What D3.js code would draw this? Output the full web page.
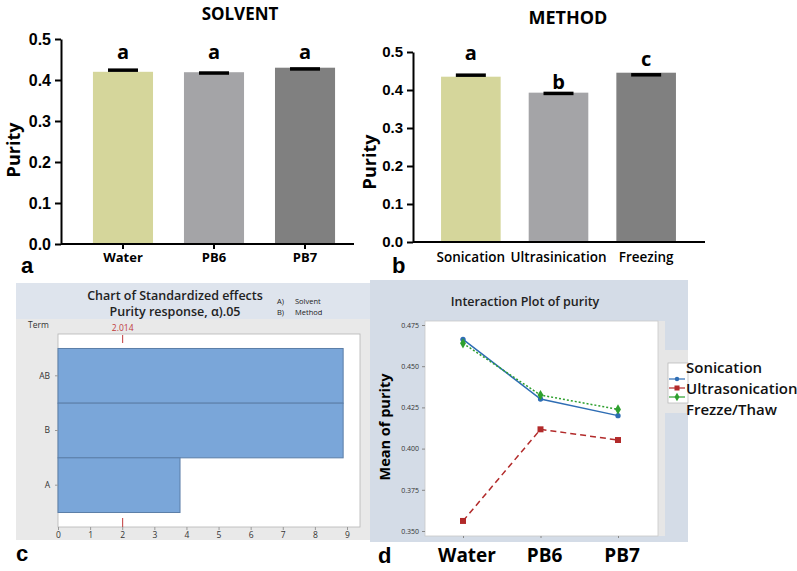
<!DOCTYPE html>
<html><head><meta charset="utf-8">
<script src="https://cdn.jsdelivr.net/npm/d3@7/dist/d3.min.js"></script>
<style>body{margin:0;background:#fff}svg{display:block}</style>
</head><body>
<svg id="chart" width="797" height="571"></svg>
<script>
// ---- Data ----
const solventCats = ["Water", "PB6", "PB7"];
const solventMeans = [0.420, 0.419, 0.430];
const solventCaps = [0.424, 0.417, 0.427];
const solventLetters = ["a", "a", "a"];
const solventLetterAt = [0.452, 0.452, 0.452];

const methodCats = ["Sonication", "Ultrasinication", "Freezing"];
const methodMeans = [0.435, 0.393, 0.4455];
const methodCaps = [0.439, 0.391, 0.440];
const methodLetters = ["a", "b", "c"];
const methodLetterAt = [0.479, 0.4026, 0.463];

const purityTicks = [0.0, 0.1, 0.2, 0.3, 0.4, 0.5];

const effectTerms = ["AB", "B", "A"];
const effectValues = [8.88, 8.88, 3.80];
const effectRef = 2.014;
const effectTicks = [0, 1, 2, 3, 4, 5, 6, 7, 8, 9];

const interCats = ["Water", "PB6", "PB7"];
const interSeries = ["Sonication", "Ultrasonication", "Frezze/Thaw"];
const sonicationVals = [0.4663, 0.4301, 0.4200];
const ultraVals = [0.3561, 0.4117, 0.4052];
const freezeVals = [0.4639, 0.4325, 0.4238];
const interTicks = [0.350, 0.375, 0.400, 0.425, 0.450, 0.475];

const svg = d3.select("#chart");
const barFont = "'Open Sans', Arial, sans-serif";

// ---- Bar panel helper ----
function barPanel(cfg) {
  const g = svg.append("g");
  const x = d3.scaleBand().domain(cfg.cats).range(cfg.xr).paddingInner(cfg.pad).paddingOuter(cfg.pad);
  const y = d3.scaleLinear().domain([0, 0.5]).range(cfg.yr);
  const data = cfg.cats.map((c, i) => ({c, v: cfg.means[i], cap: cfg.caps[i], l: cfg.letters[i], la: cfg.letterAt[i], col: cfg.colors[i]}));
  g.selectAll("rect.bar").data(data).join("rect")
    .attr("x", d => x(d.c)).attr("width", x.bandwidth())
    .attr("y", d => y(d.v)).attr("height", d => y(0) - y(d.v))
    .attr("fill", d => d.col);
  g.selectAll("line.cap").data(data).join("line")
    .attr("x1", d => x(d.c) + x.bandwidth() / 2 - 15).attr("x2", d => x(d.c) + x.bandwidth() / 2 + 15)
    .attr("y1", d => y(d.cap)).attr("y2", d => y(d.cap))
    .attr("stroke", "#000").attr("stroke-width", 3.5);
  g.selectAll("text.let").data(data).join("text")
    .attr("x", d => x(d.c) + x.bandwidth() / 2).attr("y", d => y(d.la))
    .attr("text-anchor", "middle").attr("font-family", barFont).attr("font-weight", 700)
    .attr("font-size", 20).text(d => d.l);
  // y axis
  const ya = g.append("g").attr("transform", `translate(${cfg.axisX},0)`)
    .call(d3.axisLeft(y).tickValues(purityTicks).tickFormat(d3.format(".1f")).tickSize(6).tickSizeOuter(0));
  ya.select(".domain").attr("stroke", "#000").attr("stroke-width", 2);
  ya.selectAll(".tick line").attr("stroke", "#000").attr("stroke-width", 2);
  ya.selectAll(".tick text").attr("font-family", "Arial, 'Liberation Sans', sans-serif").attr("font-weight", 700)
    .attr("font-size", cfg.tickFs).attr("fill", "#000").attr("dx", -1);
  // x axis
  const xa = g.append("g").attr("transform", `translate(0,${y(0)})`)
    .call(d3.axisBottom(x).tickSize(cfg.xTick).tickSizeOuter(0));
  xa.select(".domain").remove();
  g.append("line").attr("x1", cfg.axisX).attr("x2", cfg.axisEnd).attr("y1", y(0)).attr("y2", y(0))
    .attr("stroke", "#000").attr("stroke-width", 2);
  xa.selectAll(".tick line").attr("stroke", "#000").attr("stroke-width", 2);
  xa.selectAll(".tick text").attr("font-family", barFont).attr("font-weight", cfg.catW)
    .attr("font-size", cfg.catFs).attr("fill", "#000").attr("y", cfg.catDy);
  g.append("text").attr("x", cfg.titleX).attr("y", cfg.titleY).attr("text-anchor", "middle")
    .attr("font-family", barFont).attr("font-weight", 700).attr("font-size", cfg.titleFs).text(cfg.title);
  g.append("text").attr("transform", `translate(${cfg.ylabX},${cfg.ylabY}) rotate(-90)`).attr("text-anchor", "middle")
    .attr("font-family", barFont).attr("font-weight", 700).attr("font-size", 18).text("Purity");
  g.append("text").attr("x", cfg.panX).attr("y", cfg.panY).attr("font-family", "Arial, sans-serif")
    .attr("font-weight", 700).attr("font-size", 22).text(cfg.panel);
}

barPanel({cats: solventCats, means: solventMeans, caps: solventCaps, letters: solventLetters, letterAt: solventLetterAt,
  colors: ["#d5d69b", "#a4a4a7", "#808080"], xr: [62, 366], pad: 0.34, yr: [244, 39], axisX: 61, axisEnd: 354,
  xTick: 5, tickFs: 16, catFs: 13, catW: 700, catDy: 9, title: "SOLVENT", titleX: 240, titleY: 20, titleFs: 17,
  ylabX: 20, ylabY: 150, panel: "a", panX: 21, panY: 273});

barPanel({cats: methodCats, means: methodMeans, caps: methodCaps, letters: methodLetters, letterAt: methodLetterAt,
  colors: ["#d5d69b", "#a4a4a7", "#808080"], xr: [413, 704], pad: 0.32, yr: [242, 52], axisX: 413, axisEnd: 705,
  xTick: 0, tickFs: 15, catFs: 13.5, catW: 600, catDy: 10, title: "METHOD", titleX: 568, titleY: 24, titleFs: 18,
  ylabX: 376, ylabY: 162, panel: "b", panX: 392, panY: 273});

// ---- Panel c: standardized effects ----
(function () {
  const g = svg.append("g");
  const f = "'Open Sans', Arial, sans-serif";
  g.append("rect").attr("x", 16).attr("y", 283).attr("width", 354).attr("height", 257).attr("fill", "#e9e9e9");
  g.append("rect").attr("x", 16).attr("y", 283).attr("width", 354).attr("height", 36).attr("fill", "#dee4ed");
  const x = d3.scaleLinear().domain([0, 9]).range([58, 347]);
  const y = d3.scaleBand().domain(effectTerms).range([334, 527]).paddingInner(0).paddingOuter(0.265);
  g.append("rect").attr("x", 58).attr("y", 334).attr("width", 302).attr("height", 193)
    .attr("fill", "#fff").attr("stroke", "#b5b5b5").attr("stroke-width", 0.8);
  g.selectAll("rect.eff").data(effectTerms.map((t, i) => ({t, v: effectValues[i]}))).join("rect")
    .attr("x", x(0)).attr("y", d => y(d.t)).attr("width", d => x(d.v) - x(0)).attr("height", y.bandwidth())
    .attr("fill", "#7aa6d9").attr("stroke", "#5b7ea8").attr("stroke-width", 1);
  // reference marks
  g.append("line").attr("x1", x(effectRef)).attr("x2", x(effectRef)).attr("y1", 335).attr("y2", 343)
    .attr("stroke", "#c0393b").attr("stroke-width", 1);
  g.append("line").attr("x1", x(effectRef)).attr("x2", x(effectRef)).attr("y1", 518).attr("y2", 527)
    .attr("stroke", "#c0393b").attr("stroke-width", 1);
  g.append("text").attr("x", x(effectRef)).attr("y", 331).attr("text-anchor", "middle").attr("font-family", f)
    .attr("font-size", 8.5).attr("fill", "#c0393b").text(effectRef.toFixed(3));
  const xa = g.append("g").attr("transform", "translate(0,527)")
    .call(d3.axisBottom(x).tickValues(effectTicks).tickSize(3).tickSizeOuter(0));
  xa.select(".domain").remove();
  xa.selectAll(".tick line").attr("stroke", "#999");
  xa.selectAll(".tick text").attr("font-family", f).attr("font-size", 8.5).attr("fill", "#333").attr("y", 5);
  const ya = g.append("g").attr("transform", "translate(58,0)")
    .call(d3.axisLeft(y).tickSize(3).tickSizeOuter(0));
  ya.select(".domain").remove();
  ya.selectAll(".tick line").attr("stroke", "#999");
  ya.selectAll(".tick text").attr("font-family", f).attr("font-size", 8.5).attr("fill", "#333").attr("x", -8);
  g.append("text").attr("x", 28).attr("y", 328).attr("font-family", f).attr("font-size", 8.5).attr("fill", "#333").text("Term");
  g.append("text").attr("x", 175).attr("y", 300).attr("text-anchor", "middle").attr("font-family", f)
    .attr("font-weight", 600).attr("font-size", 12.5).attr("fill", "#222").text("Chart of Standardized effects");
  g.append("text").attr("x", 175).attr("y", 316).attr("text-anchor", "middle").attr("font-family", f)
    .attr("font-weight", 600).attr("font-size", 12.5).attr("fill", "#222").text("Purity response, α).05");
  g.append("text").attr("x", 277).attr("y", 304).attr("font-family", f).attr("font-size", 7.5).attr("fill", "#222").text("A)");
  g.append("text").attr("x", 295).attr("y", 304).attr("font-family", f).attr("font-size", 7.5).attr("fill", "#222").text("Solvent");
  g.append("text").attr("x", 277).attr("y", 315).attr("font-family", f).attr("font-size", 7.5).attr("fill", "#222").text("B)");
  g.append("text").attr("x", 295).attr("y", 315).attr("font-family", f).attr("font-size", 7.5).attr("fill", "#222").text("Method");
  g.append("text").attr("x", 16).attr("y", 561).attr("font-family", "Arial, sans-serif").attr("font-weight", 700)
    .attr("font-size", 22).text("c");
})();

// ---- Panel d: interaction plot ----
(function () {
  const g = svg.append("g");
  const f = "'Open Sans', Arial, sans-serif";
  g.append("rect").attr("x", 370).attr("y", 280).attr("width", 318).attr("height", 262).attr("fill", "#d4dce7");
  g.append("rect").attr("x", 658).attr("y", 321).attr("width", 7).attr("height", 215).attr("fill", "#e6e6e6");
  g.append("rect").attr("x", 665).attr("y", 350).attr("width", 23).attr("height", 63).attr("fill", "#e6e6e6");
  const x = d3.scalePoint().domain(interCats).range([463, 618]);
  const y = d3.scaleLinear().domain([0.350, 0.475]).range([531, 325]);
  g.append("rect").attr("x", 425).attr("y", 321).attr("width", 233).attr("height", 215)
    .attr("fill", "#fff").attr("stroke", "#c8c8c8").attr("stroke-width", 0.8);
  const ya = g.append("g").attr("transform", "translate(425,0)")
    .call(d3.axisLeft(y).tickValues(interTicks).tickFormat(d3.format(".3f")).tickSize(3).tickSizeOuter(0));
  ya.select(".domain").remove();
  ya.selectAll(".tick line").attr("stroke", "#888");
  ya.selectAll(".tick text").attr("font-family", f).attr("font-size", 7).attr("fill", "#333");
  const xa = g.append("g").attr("transform", "translate(0,536)")
    .call(d3.axisBottom(x).tickSize(2).tickSizeOuter(0).tickFormat(""));
  xa.select(".domain").remove();
  xa.selectAll(".tick line").attr("stroke", "#888");
  // big category labels
  g.selectAll("text.cat").data(interCats).join("text")
    .attr("x", d => x(d) + 4).attr("y", 562).attr("text-anchor", "middle").attr("font-family", f)
    .attr("font-weight", 700).attr("font-size", 19).text(d => d);
  const series = [
    {name: interSeries[1], vals: ultraVals, col: "#b22a2a", dash: "6,4", shape: d3.symbolSquare, size: 36},
    {name: interSeries[0], vals: sonicationVals, col: "#2e6db4", dash: null, shape: d3.symbolCircle, size: 22},
    {name: interSeries[2], vals: freezeVals, col: "#2ea02e", dash: "2,2", shape: d3.symbolDiamond, size: 30}
  ];
  const line = d3.line().x((d, i) => x(interCats[i])).y(d => y(d));
  series.forEach(s => {
    g.append("path").attr("d", line(s.vals)).attr("fill", "none").attr("stroke", s.col)
      .attr("stroke-width", 1.5).attr("stroke-dasharray", s.dash);
    g.selectAll(null).data(s.vals).join("path")
      .attr("transform", (d, i) => `translate(${x(interCats[i])},${y(d)})`)
      .attr("d", d3.symbol().type(s.shape).size(s.size)).attr("fill", s.col);
  });
  // legend
  g.append("rect").attr("x", 668).attr("y", 363).attr("width", 20).attr("height", 40)
    .attr("fill", "#fff").attr("stroke", "#bbb").attr("stroke-width", 0.8);
  const legOrder = [series[1], series[0], series[2]];
  legOrder.forEach((s, i) => {
    const ly = 379 + i * 9;
    g.append("line").attr("x1", 669).attr("x2", 685).attr("y1", ly).attr("y2", ly).attr("stroke", s.col).attr("stroke-width", 1.2);
    g.append("path").attr("transform", `translate(677,${ly})`).attr("d", d3.symbol().type(s.shape).size(s.size * 0.7)).attr("fill", s.col);
    g.append("text").attr("x", 686).attr("y", 373 + i * 21).attr("font-family", f).attr("font-weight", 600)
      .attr("font-size", 15).attr("fill", "#111").text(s.name);
  });
  g.append("text").attr("transform", "translate(390,427) rotate(-90)").attr("text-anchor", "middle")
    .attr("font-family", f).attr("font-weight", 700).attr("font-size", 14.5).text("Mean of purity");
  g.append("text").attr("x", 525).attr("y", 306).attr("text-anchor", "middle").attr("font-family", f)
    .attr("font-weight", 600).attr("font-size", 12.5).attr("fill", "#222").text("Interaction Plot of purity");
  g.append("text").attr("x", 378).attr("y", 563).attr("font-family", "Arial, sans-serif").attr("font-weight", 700)
    .attr("font-size", 22).text("d");
})();
</script>
</body></html>
